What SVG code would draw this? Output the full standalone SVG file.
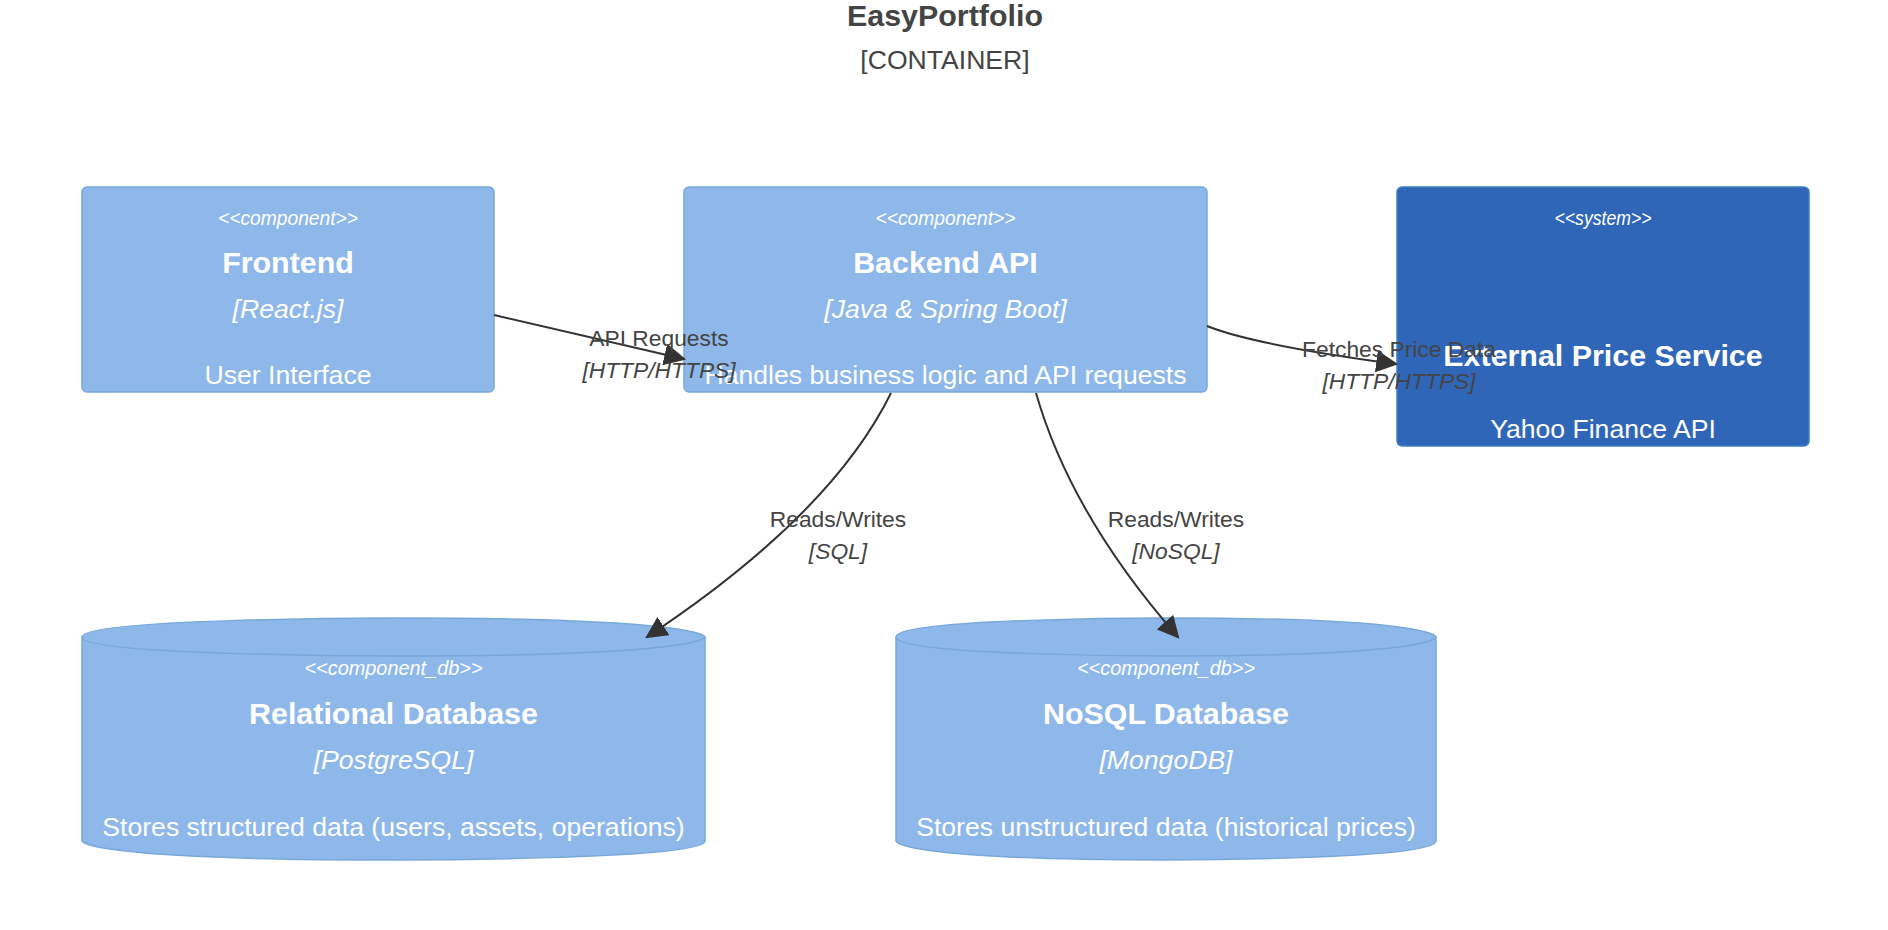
<svg xmlns="http://www.w3.org/2000/svg" width="1888" height="930" viewBox="0 0 1888 930">
<style>
text{font-family:"Liberation Sans",Arial,Helvetica,sans-serif;text-anchor:middle}
.title{font-size:30.4px;font-weight:bold;fill:#444}
.sub{font-size:26.6px;fill:#444}
.comp{fill:#8EB8EA;stroke:#78A8D8;stroke-width:1.5}
.sys{fill:#3066B8;stroke:#3C7FC0;stroke-width:1.5}
.arc{fill:none;stroke:#78A8D8;stroke-width:1.5}
.type{font-size:21px;font-style:italic;fill:#fff}
.lbl{font-size:30.4px;font-weight:bold;fill:#fff}
.tech{font-size:26.6px;font-style:italic;fill:#fff}
.desc{font-size:26.6px;fill:#fff}
.rel{fill:none;stroke:#333;stroke-width:2;marker-end:url(#arrow)}
.rl{font-size:22.8px;fill:#444}
.rt{font-size:22.8px;font-style:italic;fill:#444}
</style>
<defs>
<marker id="arrow" viewBox="0 0 10 10" refX="9" refY="5" markerUnits="userSpaceOnUse" markerWidth="22" markerHeight="22" orient="auto">
<path d="M0,0 L10,5 L0,10 z" fill="#333"/>
</marker>
</defs>
<rect width="1888" height="930" fill="#fff"/>
<g id="title">
<text class="title" x="945" y="26">EasyPortfolio</text>
<text class="sub" x="945" y="69">[CONTAINER]</text>
</g>
<g id="frontend">
<rect class="comp" x="82" y="187" width="412" height="205" rx="5"/>
<text class="type" x="288" y="225" textLength="140" lengthAdjust="spacingAndGlyphs">&lt;&lt;component&gt;&gt;</text>
<text class="lbl" x="288" y="273">Frontend</text>
<text class="tech" x="288" y="318">[React.js]</text>
<text class="desc" x="288" y="384">User Interface</text>
</g>
<g id="backend">
<rect class="comp" x="684" y="187" width="523" height="205" rx="5"/>
<text class="type" x="945.5" y="225" textLength="140" lengthAdjust="spacingAndGlyphs">&lt;&lt;component&gt;&gt;</text>
<text class="lbl" x="945.5" y="273">Backend API</text>
<text class="tech" x="945.5" y="318">[Java &amp; Spring Boot]</text>
<text class="desc" x="945.5" y="384">Handles business logic and API requests</text>
</g>
<g id="external">
<rect class="sys" x="1397" y="187" width="412" height="259" rx="5"/>
<text class="type" x="1603" y="225" textLength="97" lengthAdjust="spacingAndGlyphs">&lt;&lt;system&gt;&gt;</text>
<text class="lbl" x="1603" y="366">External Price Service</text>
<text class="desc" x="1603" y="438">Yahoo Finance API</text>
</g>
<g id="relational">
<path class="comp" d="M82,637 c0,-19 311.5,-19 311.5,-19 c311.5,0 311.5,19 311.5,19 l0,204 c0,19 -311.5,19 -311.5,19 c-311.5,0 -311.5,-19 -311.5,-19 z"/>
<path class="arc" d="M82,637 c0,19 311.5,19 311.5,19 c311.5,0 311.5,-19 311.5,-19"/>
<text class="type" x="393.5" y="675" textLength="178" lengthAdjust="spacingAndGlyphs">&lt;&lt;component_db&gt;&gt;</text>
<text class="lbl" x="393.5" y="724">Relational Database</text>
<text class="tech" x="393.5" y="769">[PostgreSQL]</text>
<text class="desc" x="393.5" y="836">Stores structured data (users, assets, operations)</text>
</g>
<g id="nosql">
<path class="comp" d="M896,637 c0,-19 270,-19 270,-19 c270,0 270,19 270,19 l0,204 c0,19 -270,19 -270,19 c-270,0 -270,-19 -270,-19 z"/>
<path class="arc" d="M896,637 c0,19 270,19 270,19 c270,0 270,-19 270,-19"/>
<text class="type" x="1166" y="675" textLength="178" lengthAdjust="spacingAndGlyphs">&lt;&lt;component_db&gt;&gt;</text>
<text class="lbl" x="1166" y="724">NoSQL Database</text>
<text class="tech" x="1166" y="769">[MongoDB]</text>
<text class="desc" x="1166" y="836">Stores unstructured data (historical prices)</text>
</g>
<g id="connectors">
<path class="rel" d="M494,315 L684,359"/>
<text class="rl" x="659" y="346">API Requests</text>
<text class="rt" x="659" y="378">[HTTP/HTTPS]</text>
<path class="rel" d="M1207,326 Q1254,345 1396,364"/>
<text class="rl" x="1399" y="357">Fetches Price Data</text>
<text class="rt" x="1399" y="389">[HTTP/HTTPS]</text>
<path class="rel" d="M891,393 Q831,515 647,637"/>
<text class="rl" x="838" y="527">Reads/Writes</text>
<text class="rt" x="838" y="559">[SQL]</text>
<path class="rel" d="M1036,393 Q1071,515 1178,637"/>
<text class="rl" x="1176" y="527">Reads/Writes</text>
<text class="rt" x="1176" y="559">[NoSQL]</text>
</g>
</svg>
